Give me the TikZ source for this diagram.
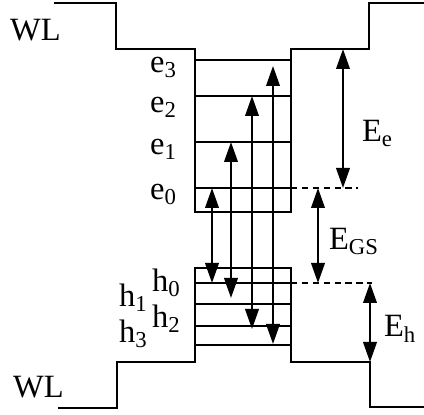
\documentclass[tikz,border=0pt]{standalone}
\usepackage{fontspec}
\setmainfont{Liberation Serif}
\usetikzlibrary{arrows.meta}
\begin{document}
\begin{tikzpicture}[x=0.02cm, y=-0.02cm, line width=1.3pt,
  dbl/.style={{Triangle[length=0.4cm,width=0.27cm]}-{Triangle[length=0.4cm,width=0.27cm]}, line width=1.3pt},
  lbl/.style={font=\fontsize{18.5}{22}\selectfont, anchor=base west, inner sep=0pt},
  dsh/.style={dash pattern=on 3.6pt off 2.6pt}]
  \useasboundingbox (0,0) rectangle (424,415);
  % band edges
  \draw (54,3) -- (116,3) -- (116,49) -- (195,49) -- (195,212) -- (291,212) -- (291,49) -- (369,49) -- (369,3) -- (424,3);
  \draw (58,408) -- (117,408) -- (117,362) -- (195,362) -- (195,268) -- (291,268) -- (291,362) -- (370,362) -- (370,407) -- (424,407);
  % levels
  \coordinate (e3) at (195,60); \coordinate (e2) at (195,96); \coordinate (e1) at (195,142); \coordinate (e0) at (195,188);
  \coordinate (h0) at (195,283); \coordinate (h1) at (195,304); \coordinate (h2) at (195,326); \coordinate (h3) at (195,345);
  \foreach \l in {e3,e2,e1,e0,h0,h1,h2,h3} \draw (\l) -- ++(96,0);
  \coordinate (e0d) at (358,188); \coordinate (h0d) at (372,283);
  \draw[dsh] (291,188) -- (e0d);
  \draw[dsh] (291,283) -- (h0d);
  % transitions
  \coordinate (t0u) at (212,188); \coordinate (t0d) at (212,283);
  \coordinate (t1u) at (231,142); \coordinate (t1d) at (231,298);
  \coordinate (t2u) at (252,96);  \coordinate (t2d) at (252,329);
  \coordinate (t3u) at (273,66);  \coordinate (t3d) at (273,344);
  \draw[dbl] (t0u) -- (t0d);
  \draw[dbl] (t1u) -- (t1d);
  \draw[dbl] (t2u) -- (t2d);
  \draw[dbl] (t3u) -- (t3d);
  % energies
  \coordinate (Eet) at (343,49); \coordinate (Eeb) at (343,188);
  \coordinate (Egt) at (318,188); \coordinate (Egb) at (318,283);
  \coordinate (Eht) at (370,283); \coordinate (Ehb) at (370,362);
  \draw[dbl] (Eet) -- (Eeb);
  \draw[dbl] (Egt) -- (Egb);
  \draw[dbl] (Eht) -- (Ehb);
  % labels
  \node[lbl] (wlt) at (9,41) {WL};
  \node[lbl] (wlb) at (12,398) {WL};
  \node[lbl] (le3) at (149,73) {e\textsubscript{3}};
  \node[lbl] (le2) at (149,113) {e\textsubscript{2}};
  \node[lbl] (le1) at (149,155) {e\textsubscript{1}};
  \node[lbl] (le0) at (149,200) {e\textsubscript{0}};
  \node[lbl] (lh0) at (151,292) {h\textsubscript{0}};
  \node[lbl] (lh1) at (118,307) {h\textsubscript{1}};
  \node[lbl] (lh2) at (151,328) {h\textsubscript{2}};
  \node[lbl] (lh3) at (118,343) {h\textsubscript{3}};
  \node[lbl] (lEe) at (361,142) {E\textsubscript{e}};
  \node[lbl] (lEg) at (328,250) {E\textsubscript{GS}};
  \node[lbl] (lEh) at (383,337) {E\textsubscript{h}};
\end{tikzpicture}
\end{document}
